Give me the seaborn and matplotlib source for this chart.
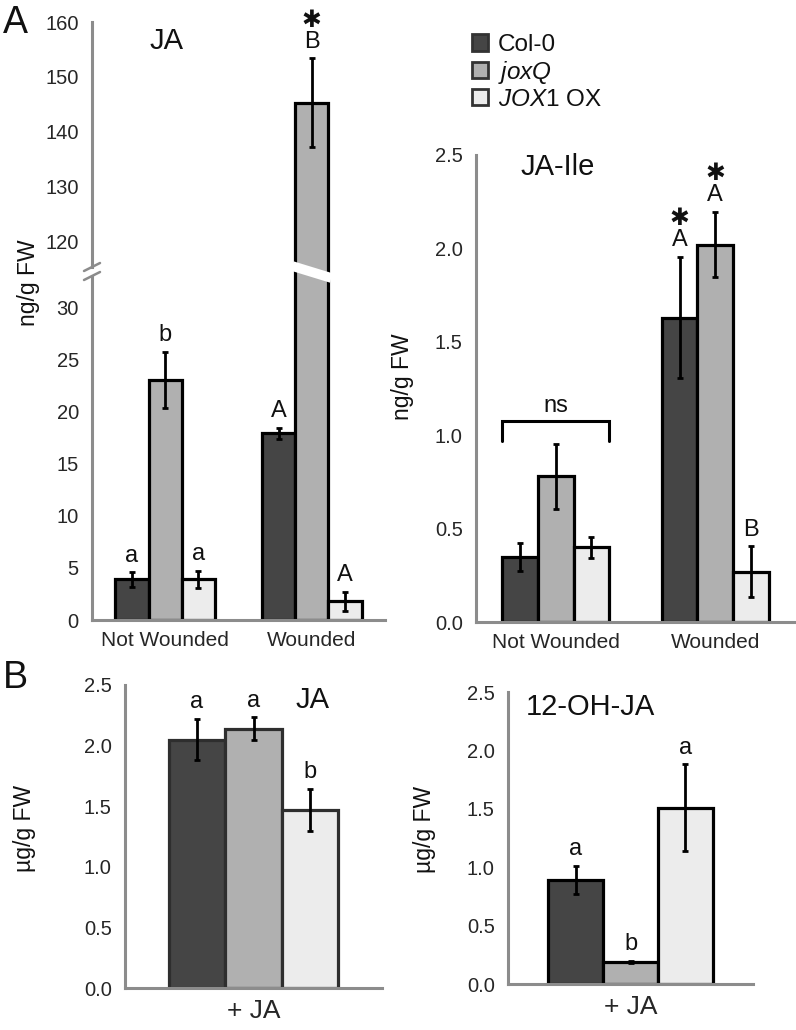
import numpy as np
import pandas as pd
import seaborn as sns
from matplotlib import pyplot as plt
from matplotlib.lines import Line2D
from matplotlib.patches import Patch

W, H = 796, 1030

genotypes = ["Col-0", "joxQ", "JOX1 OX"]
legend_labels = ["Col-0", r"$\mathit{joxQ}$", r"$\mathit{JOX1}$ OX"]
colors = ["#454545", "#b0b0b0", "#ececec"]
wound = ["Not Wounded", "Wounded"]
plus_ja = ["+ JA"]

# A, JA (ng/g FW): rows = genotype, cols = Not Wounded / Wounded
ja_mean = [[3.9, 17.95], [23.1, 145.3], [3.9, 1.8]]
ja_se = [[0.7, 0.55], [2.7, 8.1], [0.85, 0.9]]
ja_letters = [["a", "A"], ["b", "B"], ["a", "A"]]
ja_stars = [[False, False], [False, True], [False, False]]

# A, JA-Ile (ng/g FW)
ile_mean = [[0.35, 1.63], [0.78, 2.02], [0.40, 0.27]]
ile_se = [[0.075, 0.325], [0.175, 0.175], [0.057, 0.135]]
ile_letters = [["", "A"], ["", "A"], ["", "B"]]
ile_stars = [[False, True], [False, True], [False, False]]
ns_y = 1.075

# B, JA and 12-OH-JA after JA treatment (ug/g FW)
bja_mean = [[2.05], [2.14], [1.47]]
bja_se = [[0.17], [0.095], [0.175]]
bja_letters = [["a"], ["a"], ["b"]]

oh_mean = [[0.89], [0.19], [1.51]]
oh_se = [[0.12], [0.01], [0.37]]
oh_letters = [["a"], ["b"], ["a"]]

sns.set_style("white")
plt.rcParams["font.family"] = ["Liberation Sans", "DejaVu Sans"]
plt.rcParams["mathtext.fontset"] = "custom"
plt.rcParams["mathtext.rm"] = "Liberation Sans"
plt.rcParams["mathtext.it"] = "Liberation Sans:italic"
plt.rcParams["text.color"] = "#111111"

gray = "#8c8c8c"
fig = plt.figure(figsize=(W / 100, H / 100), dpi=100)


def px_axes(left, top, right, bottom):
    return fig.add_axes([left / W, 1 - bottom / H, (right - left) / W, (bottom - top) / H])


ax_hi = px_axes(92, 22, 385, 272)
ax_lo = px_axes(92, 272, 385, 620)
ax_ile = px_axes(476, 155, 795, 622)
ax_bja = px_axes(125, 685, 382, 988)
ax_oh = px_axes(508, 692, 753, 984)


def draw_bars(ax, cats, mean, se, width, edge="black", lw=2.3):
    df = pd.DataFrame({
        "condition": np.repeat([cats], len(genotypes), axis=0).ravel(),
        "genotype": np.repeat(genotypes, len(cats)),
        "value": np.ravel(mean),
    })
    sns.barplot(data=df, x="condition", y="value", hue="genotype", order=cats,
                hue_order=genotypes, palette=colors, saturation=1, width=width,
                errorbar=None, edgecolor=edge, linewidth=lw, legend=False, ax=ax)
    xs = np.array([[p.get_x() + p.get_width() / 2 for p in c] for c in ax.containers])
    ax.errorbar(xs.ravel(), np.ravel(mean), yerr=np.ravel(se), fmt="none",
                ecolor="black", elinewidth=2, capsize=2.5, capthick=2, zorder=4)
    return xs


def mark(axes, xs, mean, se, labels, stars=None):
    # significance letters, with a star line on top where needed
    if stars is None:
        stars = np.zeros(np.shape(labels), bool)
    for x, m, s, t, st in zip(xs.ravel(), np.ravel(mean), np.ravel(se),
                              np.ravel(labels), np.ravel(stars)):
        if not t:
            continue
        top = m + s
        ax = next(a for a in axes if a.get_ylim()[0] <= top <= a.get_ylim()[1])
        label = "\u2731\n" + t if st else t
        ax.annotate(label, (x, top), xytext=(0, 4), textcoords="offset points",
                    ha="center", va="bottom", multialignment="center",
                    linespacing=0.95, fontsize=17)


def style(ax, cats, yticks, fmt, xlabel_size=15):
    sns.despine(ax=ax)
    ax.set_xlabel("")
    ax.set_ylabel("")
    for s in ["left", "bottom"]:
        ax.spines[s].set_color(gray)
        ax.spines[s].set_linewidth(2.2)
    n = len(cats)
    ax.set_xlim(-0.5, n - 0.5)
    ax.set_xticks(np.arange(n + 1) - 0.5)
    ax.set_xticklabels([])
    ax.set_xticks(range(n), cats, minor=True)
    ax.tick_params(axis="x", which="major", length=5, width=2, color=gray)
    ax.tick_params(axis="x", which="minor", length=0, labelsize=xlabel_size, pad=8)
    ax.set_yticks(yticks)
    ax.set_yticklabels([fmt.format(v) for v in yticks])
    ax.tick_params(axis="y", length=4.5, width=2, color=gray, labelsize=14.5, pad=5)


# ---- A: JA with broken axis
xs_ja = draw_bars(ax_hi, wound, ja_mean, ja_se, 0.68)
draw_bars(ax_lo, wound, ja_mean, ja_se, 0.68)
ax_hi.set_ylim(114.46, 160)
ax_lo.set_ylim(0, 33.46)
style(ax_lo, wound, np.arange(0, 31, 5), "{:.0f}")
style(ax_hi, wound, np.arange(120, 161, 10), "{:.0f}")
ax_hi.spines["bottom"].set_visible(False)
ax_hi.tick_params(axis="x", which="both", length=0, labelbottom=False)
ax_lo.spines["top"].set_visible(False)
ax_hi.spines["left"].set_bounds(ax_hi.get_ylim()[0] + 1.0, 160)
ax_lo.spines["left"].set_bounds(0, ax_lo.get_ylim()[1] - 0.5)
mark([ax_lo, ax_hi], xs_ja, ja_mean, ja_se, ja_letters, ja_stars)
ax_hi.text(0.256, 0.923, "JA", transform=ax_hi.transAxes, ha="center", va="center", fontsize=21)

# ---- A: JA-Ile
xs_ile = draw_bars(ax_ile, wound, ile_mean, ile_se, 0.67)
ax_ile.set_ylim(0, 2.5)
style(ax_ile, wound, np.arange(0, 2.51, 0.5), "{:.1f}")
mark([ax_ile], xs_ile, ile_mean, ile_se, ile_letters, ile_stars)
b0, b2 = ax_ile.containers[0][0], ax_ile.containers[2][0]
bx0, bx1 = b0.get_x(), b2.get_x() + b2.get_width()
ax_ile.plot([bx0, bx0, bx1, bx1], [ns_y - 0.105, ns_y, ns_y, ns_y - 0.105],
            color="black", lw=2.2, solid_joinstyle="miter")
ax_ile.annotate("ns", ((bx0 + bx1) / 2, ns_y), xytext=(0, 3), textcoords="offset points",
                ha="center", va="bottom", fontsize=17)
ax_ile.text(0.255, 0.974, "JA-Ile", transform=ax_ile.transAxes, ha="center", va="center", fontsize=21)

# ---- B: JA
xs_bja = draw_bars(ax_bja, plus_ja, bja_mean, bja_se, 0.66, edge="#2e2e2e")
ax_bja.set_ylim(0, 2.5)
style(ax_bja, plus_ja, np.arange(0, 2.51, 0.5), "{:.1f}", xlabel_size=19)
mark([ax_bja], xs_bja, bja_mean, bja_se, bja_letters)
ax_bja.text(0.73, 0.95, "JA", transform=ax_bja.transAxes, ha="center", va="center", fontsize=21)

# ---- B: 12-OH-JA
xs_oh = draw_bars(ax_oh, plus_ja, oh_mean, oh_se, 0.67)
ax_oh.set_ylim(0, 2.5)
style(ax_oh, plus_ja, np.arange(0, 2.51, 0.5), "{:.1f}", xlabel_size=19)
mark([ax_oh], xs_oh, oh_mean, oh_se, oh_letters)
ax_oh.text(0.335, 0.949, "12-OH-JA", transform=ax_oh.transAxes, ha="center", va="center", fontsize=21)

# axis break: white stripe across the tall bar and // on the axis
to_fig = fig.transFigure.inverted()
yb = ax_lo.get_position().y1 * H
tall = ax_lo.containers[1][1]
xl = ax_lo.transData.transform((tall.get_x(), 0))[0]
xr = ax_lo.transData.transform((tall.get_x() + tall.get_width(), 0))[0]
p = to_fig.transform([(xl - 3, yb + 6), (xr + 3, yb - 6)])
fig.add_artist(Line2D(p[:, 0], p[:, 1], transform=fig.transFigure, color="white",
                      lw=7, solid_capstyle="butt", zorder=10))
xa = ax_lo.get_position().x0 * W
for dy in (5, -4):
    q = to_fig.transform([(xa - 8, yb + dy - 4), (xa + 8, yb + dy + 4)])
    fig.add_artist(Line2D(q[:, 0], q[:, 1], transform=fig.transFigure, color=gray, lw=1.8))

# y labels
fig.text(29 / W, 1 - 283 / H, "ng/g FW", rotation=90, ha="center", va="center", fontsize=16.5)
fig.text(402 / W, 1 - 377 / H, "ng/g FW", rotation=90, ha="center", va="center", fontsize=16.5)
fig.text(25 / W, 1 - 828 / H, "µg/g FW", rotation=90, ha="center", va="center", fontsize=16.5)
fig.text(425 / W, 1 - 829 / H, "µg/g FW", rotation=90, ha="center", va="center", fontsize=16.5)

# panel letters
fig.text(3 / W, 1 - 33 / H, "A", fontsize=27, va="baseline")
fig.text(3 / W, 1 - 688 / H, "B", fontsize=27, va="baseline")

handles = [Patch(facecolor=c, edgecolor="#333333", linewidth=2) for c in colors]
fig.legend(handles, legend_labels, loc="upper left", bbox_to_anchor=(472 / W, 1 - 34 / H),
           frameon=False, fontsize=17.5, handlelength=0.65, handleheight=0.65,
           handletextpad=0.4, labelspacing=0.12, borderpad=0, borderaxespad=0)

fig.savefig("out.png", dpi=100)
